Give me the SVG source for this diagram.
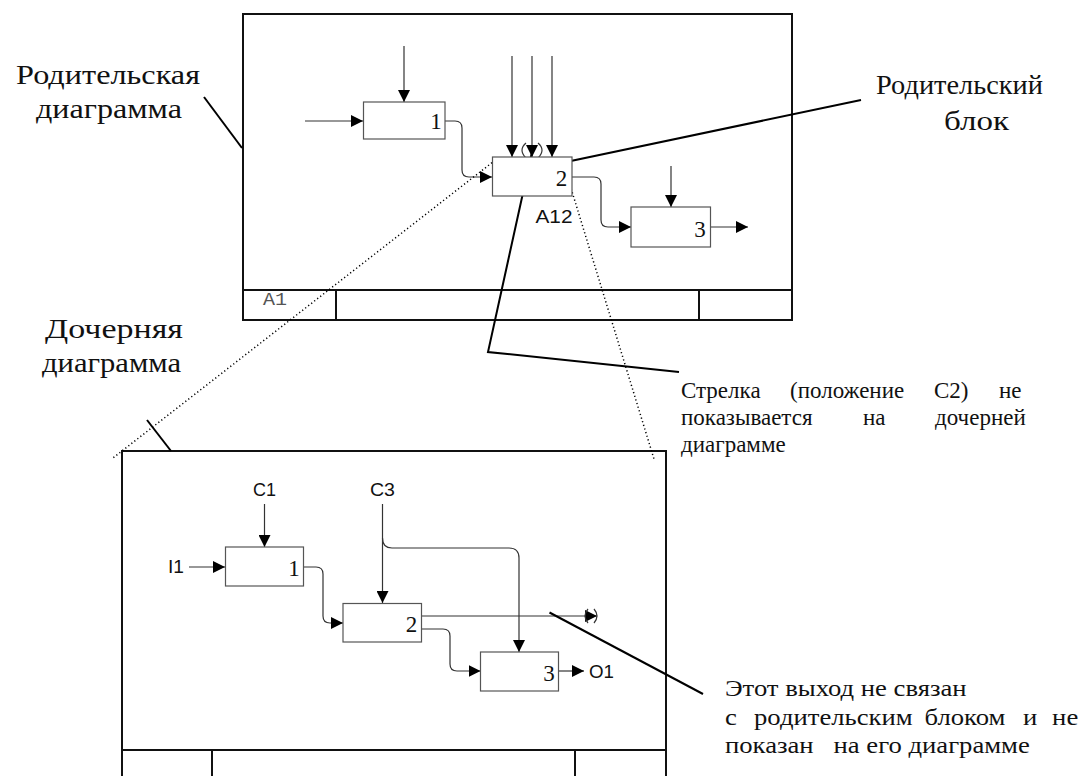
<svg xmlns="http://www.w3.org/2000/svg" width="1080" height="776" viewBox="0 0 1080 776">
<defs>
<marker id="ah" markerUnits="userSpaceOnUse" markerWidth="12" markerHeight="12" refX="12" refY="6" orient="auto">
<path d="M0,0 L12,6 L0,12 z" fill="#000"/>
</marker>
</defs>
<style>
.frame{fill:none;stroke:#111;stroke-width:2}
.box{fill:#fff;stroke:#555;stroke-width:1.2}
.arr{fill:none;stroke:#333;stroke-width:1.2;marker-end:url(#ah)}
.ln{fill:none;stroke:#333;stroke-width:1.2}
.lead{fill:none;stroke:#000;stroke-width:2}
.dot{fill:none;stroke:#000;stroke-width:1.5;stroke-dasharray:1.2 2.6}
.num{font-family:"Liberation Serif","Times New Roman",serif;font-size:23px;fill:#111;text-anchor:middle}
.lab{font-family:"Liberation Sans",Arial,sans-serif;font-size:18px;fill:#111}
.big{font-family:"Liberation Serif","Times New Roman",serif;font-size:28px;fill:#111}
.note{font-family:"Liberation Serif","Times New Roman",serif;font-size:23px;fill:#111}
.mono{font-family:"Liberation Mono","Courier New",monospace;font-size:18px;fill:#555}
</style>
<rect width="1080" height="776" fill="#fff"/>

<g id="parent-frame">
<rect class="frame" x="243" y="14" width="549" height="306"/>
<line class="frame" x1="243" y1="290" x2="792" y2="290"/>
<line class="frame" x1="336" y1="290" x2="336" y2="320"/>
<line class="frame" x1="699" y1="290" x2="699" y2="320"/>
<text class="mono" x="263" y="305" textLength="24" lengthAdjust="spacingAndGlyphs">A1</text>
</g>

<g id="child-frame">
<path class="frame" d="M122,780 V451 H666 V780"/>
<line class="frame" x1="122" y1="750" x2="666" y2="750"/>
<line class="frame" x1="212" y1="750" x2="212" y2="780"/>
<line class="frame" x1="575" y1="750" x2="575" y2="780"/>
</g>

<g id="connectors">
<path class="arr" d="M305,121 H363"/>
<path class="arr" d="M404,46 V102"/>
<path class="arr" d="M445,121 H455 Q462,121 462,128 V170 Q462,177 469,177 H492"/>
<path class="arr" d="M512,56 V157"/>
<path class="arr" d="M532,56 V157"/>
<path class="arr" d="M552,56 V157"/>
<path class="ln" d="M526,143 Q518,150 526,158 M538,143 Q546,150 538,158"/>
<path class="arr" d="M572,177 H594 Q601,177 601,184 V220 Q601,227 608,227 H631"/>
<path class="arr" d="M671,166 V207"/>
<path class="arr" d="M710,227 H748"/>
<path class="arr" d="M189,567 H225"/>
<path class="arr" d="M264.5,504 V547"/>
<path class="arr" d="M303.5,567 H316 Q323,567 323,574 V616 Q323,623 330,623 H343"/>
<path class="arr" d="M382.5,504 V603"/>
<path class="arr" d="M382.5,538 Q382.5,548 392,548 H509 Q519,548 519,558 V652"/>
<path class="arr" d="M421.5,629 H443 Q450,629 450,636 V664 Q450,671 457,671 H480.5"/>
<path class="arr" d="M421.5,616 H597"/>
<path class="ln" d="M588,609 Q582,616 588,623 M594,609 Q600,616 594,623"/>
<path class="arr" d="M558.5,671 H584"/>
<path class="dot" d="M498,158 L113,458"/>
<path class="dot" d="M570,185 L654,459"/>
<path class="lead" d="M204,97 L242,148"/>
<path class="lead" d="M566,162 L861,100"/>
<path class="lead" d="M147,420 L171,451"/>
<path class="lead" d="M532,152 L488,352 L679,372"/>
<path class="lead" d="M549.5,612.5 L703,694"/>
</g>

<g id="p1"><rect class="box" x="363.5" y="102" width="81.5" height="37"/><text class="num" x="436" y="129">1</text></g>
<g id="p2"><rect class="box" x="492.5" y="157" width="79.5" height="39"/><text class="num" x="561.5" y="186">2</text><text class="lab" x="535.5" y="223" font-size="17" textLength="37" lengthAdjust="spacingAndGlyphs">A12</text></g>
<g id="p3"><rect class="box" x="631" y="207" width="79.5" height="40"/><text class="num" x="700" y="237">3</text></g>

<g id="c1"><rect class="box" x="225.5" y="547" width="78" height="39"/><text class="num" x="294" y="576">1</text></g>
<g id="c2"><rect class="box" x="343" y="603.5" width="78.5" height="38.5"/><text class="num" x="411.5" y="632">2</text></g>
<g id="c3"><rect class="box" x="480.5" y="652" width="78" height="39"/><text class="num" x="549" y="681">3</text></g>

<g id="child-labels">
<text class="lab" x="253" y="496" textLength="23" lengthAdjust="spacingAndGlyphs">C1</text>
<text class="lab" x="370" y="496" textLength="25" lengthAdjust="spacingAndGlyphs">C3</text>
<text class="lab" x="168" y="573" textLength="16" lengthAdjust="spacingAndGlyphs">I1</text>
<text class="lab" x="589" y="678" textLength="25" lengthAdjust="spacingAndGlyphs">O1</text>
</g>

<g id="annotations">
<text class="big" x="16" y="84" textLength="184" lengthAdjust="spacingAndGlyphs">Родительская</text>
<text class="big" x="36" y="118" textLength="146" lengthAdjust="spacingAndGlyphs">диаграмма</text>
<text class="big" x="876" y="94" textLength="167" lengthAdjust="spacingAndGlyphs">Родительский</text>
<text class="big" x="944" y="130" textLength="65" lengthAdjust="spacingAndGlyphs">блок</text>
<text class="big" x="45" y="338" textLength="138" lengthAdjust="spacingAndGlyphs">Дочерняя</text>
<text class="big" x="42" y="372" textLength="139" lengthAdjust="spacingAndGlyphs">диаграмма</text>
<text class="note" y="398"><tspan x="681">Стрелка</tspan><tspan x="790">(положение</tspan><tspan x="934">С2)</tspan><tspan x="999">не</tspan></text>
<text class="note" y="425"><tspan x="681">показывается</tspan><tspan x="863">на</tspan><tspan x="935">дочерней</tspan></text>
<text class="note" x="681" y="452">диаграмме</text>
<g transform="matrix(1.16 0 0 1 -116 0)">
<text class="note" x="725" y="696">Этот выход не связан</text>
<text class="note" y="725"><tspan x="725">с</tspan><tspan x="750">родительским</tspan><tspan x="897">блоком</tspan><tspan x="982">и</tspan><tspan x="1007">не</tspan></text>
<text class="note" x="725" y="753" xml:space="preserve">показан   на его диаграмме</text>
</g>
</g>
</svg>
